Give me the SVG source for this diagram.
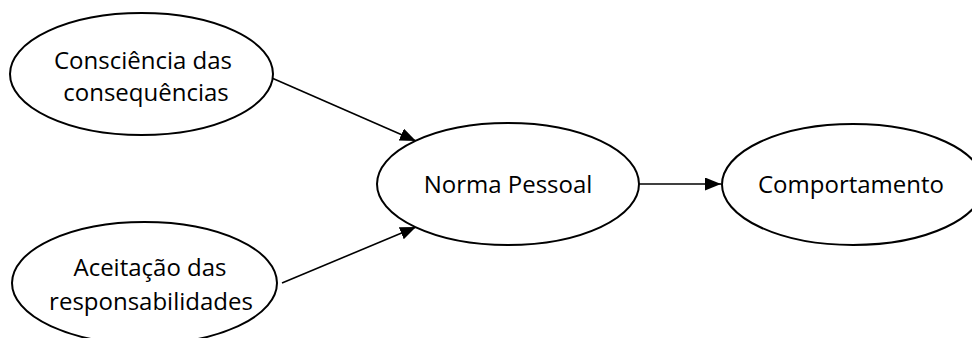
<svg xmlns="http://www.w3.org/2000/svg" width="972" height="338" viewBox="0 0 972 338">
  <style>
    .node ellipse { fill: #ffffff; stroke: #000000; stroke-width: 2; }
    .node text { font-family: "Open Sans", "Liberation Sans", sans-serif; font-size: 24px; fill: #000000; text-anchor: middle; }
    .edge { stroke: #000000; stroke-width: 1.6; fill: none; }
  </style>
  <defs>
    <marker id="arrow" markerUnits="userSpaceOnUse" markerWidth="17" markerHeight="14" refX="16" refY="6.5" orient="auto">
      <path d="M0,0 L16,6.5 L0,13 z" fill="#000000"/>
    </marker>
  </defs>
  <rect width="972" height="338" fill="#ffffff"/>

  <!-- directed connectors between the constructs -->
  <g id="connectors">
    <line class="edge" x1="265" y1="75" x2="416" y2="141" marker-end="url(#arrow)"/>
    <line class="edge" x1="282" y1="283" x2="416" y2="227" marker-end="url(#arrow)"/>
    <line class="edge" x1="639" y1="184" x2="721" y2="184" marker-end="url(#arrow)"/>
  </g>

  <g id="consciencia" class="node">
    <ellipse cx="141.5" cy="74" rx="131.5" ry="61"/>
    <text x="143" y="69">Consciência das</text>
    <text x="146" y="101">consequências</text>
  </g>

  <g id="aceitacao" class="node">
    <ellipse cx="144.5" cy="283" rx="132.5" ry="61"/>
    <text x="150" y="276">Aceitação das</text>
    <text x="151" y="310">responsabilidades</text>
  </g>

  <g id="norma" class="node">
    <ellipse cx="508" cy="184" rx="131" ry="61"/>
    <text x="508" y="193">Norma Pessoal</text>
  </g>

  <g id="comportamento" class="node">
    <ellipse cx="853" cy="184.5" rx="131" ry="60.5"/>
    <text x="851" y="193">Comportamento</text>
  </g>
</svg>
